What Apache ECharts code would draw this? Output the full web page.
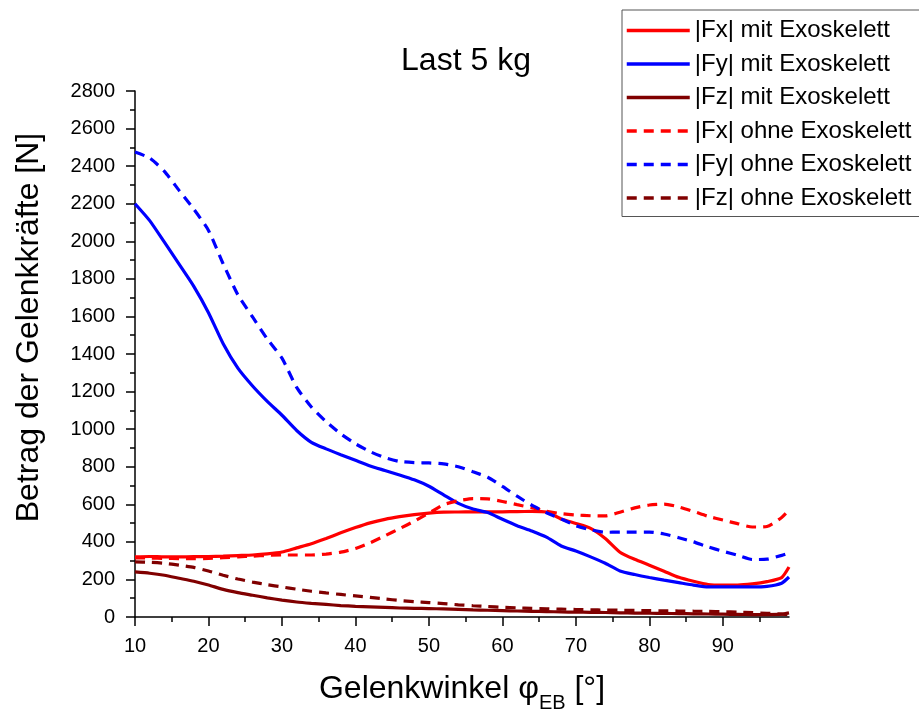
<!DOCTYPE html>
<html>
<head>
    <meta charset="utf-8">
    <title>Last 5 kg</title>
    <script src="https://cdn.jsdelivr.net/npm/echarts@6/dist/echarts.min.js"></script>
    <style>
        html, body { margin: 0; padding: 0; background: #fff; }
        #main { width: 919px; height: 711px; }
    </style>
</head>
<body>
    <div id="main"></div>
    <script type="text/javascript">
        // Gelenkwinkel (deg)
        var angles = [10, 12, 14, 16, 18, 20, 22, 24, 26, 28, 30, 32, 34, 36, 38, 40, 42, 44, 46, 48,
                      50, 52, 54, 56, 58, 60, 62, 64, 66, 68, 70, 72, 74, 76, 78, 80, 82, 84, 86, 88,
                      90, 92, 94, 96, 98, 99];
        // forces [N]
        var fxMit = [320, 322, 320, 320, 321, 322, 324, 327, 330, 336, 346, 368, 390, 418, 448, 476, 501, 520, 534, 545,
                     553, 558, 559, 560, 560, 560, 561, 562, 559, 522, 498, 472, 418, 345, 307, 276, 244, 211, 190, 173,
                     170, 170, 176, 188, 210, 266];
        var fyMit = [2200, 2110, 1995, 1878, 1760, 1620, 1455, 1325, 1230, 1148, 1074, 993, 930, 895, 864, 834, 804, 780, 756, 730,
                     696, 650, 605, 575, 556, 520, 486, 458, 425, 378, 351, 320, 286, 245, 226, 210, 196, 183, 170, 160,
                     160, 160, 160, 163, 180, 213];
        var fzMit = [240, 233, 222, 206, 190, 170, 147, 130, 116, 102, 90, 80, 73, 67, 61, 57, 54, 51, 48, 46,
                     45, 43, 41, 38, 36, 34, 32, 30, 29, 27, 26, 25, 24, 22, 21, 20, 19, 18, 17, 16,
                     15, 14, 13, 13, 15, 22];
        var fxOhne = [315, 314, 312, 311, 310, 312, 316, 320, 324, 328, 330, 330, 330, 335, 345, 365, 395, 432, 470, 510,
                      553, 598, 619, 630, 629, 615, 598, 582, 563, 550, 543, 539, 538, 558, 581, 596, 601, 586, 562, 536,
                      516, 497, 479, 482, 530, 570];
        var fyOhne = [2475, 2443, 2372, 2271, 2171, 2058, 1880, 1715, 1597, 1480, 1378, 1222, 1118, 1040, 975, 922, 880, 848, 828, 822,
                      820, 815, 800, 773, 744, 695, 643, 595, 555, 522, 486, 464, 451, 452, 452, 452, 442, 422, 400, 373,
                      350, 329, 306, 308, 328, 341];
        var fzOhne = [293, 291, 286, 276, 264, 245, 222, 202, 186, 172, 160, 148, 137, 128, 120, 112, 104, 96, 88, 82,
                      77, 71, 65, 60, 56, 52, 49, 46, 44, 42, 40, 38, 37, 36, 35, 34, 33, 32, 31, 30,
                      28, 26, 23, 20, 15, 12];

        var xMajor = [10, 20, 30, 40, 50, 60, 70, 80, 90];
        var xMinor = [15, 25, 35, 45, 55, 65, 75, 85, 95];

        var FONT = '"Liberation Sans", Arial, sans-serif';
        var RED = '#ff0000', BLUE = '#0000ff', DARK = '#800000';
        var DASH = [10, 7];

        function pairs(ys) {
            return angles.map(function (a, i) { return [a, ys[i]]; });
        }

        function lineSeries(name, ys, color, dashed) {
            return {
                name: name,
                type: 'line',
                data: pairs(ys),
                smooth: 0.2,
                symbol: 'none',
                lineStyle: { color: color, width: 3.2, type: dashed ? DASH : 'solid' },
                itemStyle: { color: color },
                z: dashed ? 3 : 2
            };
        }

        var myChart = echarts.init(document.getElementById('main'));

        var option = {
            backgroundColor: '#fff',
            animation: false,
            title: {
                text: 'Last 5 kg',
                left: 461,
                top: 40,
                textAlign: 'center',
                textStyle: { fontFamily: FONT, fontSize: 32, fontWeight: 'normal', color: '#000' }
            },
            legend: {
                orient: 'vertical',
                left: 622,
                top: 10,
                padding: [8.5, 30, 6.5, 3],
                itemWidth: 63,
                itemHeight: 22,
                itemGap: 9.5,
                borderColor: '#555',
                borderWidth: 1,
                itemStyle: { opacity: 0 },
                lineStyle: { width: 3.5 },
                textStyle: { fontFamily: FONT, fontSize: 24, color: '#000', lineHeight: 24 },
                data: ['|Fx| mit Exoskelett', '|Fy| mit Exoskelett', '|Fz| mit Exoskelett',
                       '|Fx| ohne Exoskelett', '|Fy| ohne Exoskelett', '|Fz| ohne Exoskelett']
            },
            grid: { left: 135, right: 130, top: 91, bottom: 94, outerBoundsMode: 'none' },
            xAxis: [
                {
                    type: 'value',
                    min: 10,
                    max: 99,
                    interval: 10,
                    name: 'Gelenkwinkel φ{sub|EB} [°]',
                    nameLocation: 'middle',
                    nameGap: 56,
                    nameTextStyle: {
                        fontFamily: FONT, fontSize: 32, color: '#000', lineHeight: 32,
                        rich: { sub: { fontFamily: FONT, fontSize: 20, lineHeight: 20, verticalAlign: 'top', padding: [20, 0, 0, 0], color: '#000' } }
                    },
                    axisLine: { show: true, lineStyle: { color: '#000', width: 1.5 } },
                    axisTick: { show: true, customValues: xMajor, length: 9, lineStyle: { color: '#000', width: 1.5 } },
                    axisLabel: { customValues: xMajor, fontFamily: FONT, fontSize: 20, color: '#000', margin: 19 },
                    splitLine: { show: false }
                },
                {
                    type: 'value',
                    min: 10,
                    max: 99,
                    position: 'bottom',
                    axisLine: { show: false },
                    axisTick: { show: true, customValues: xMinor, length: 5, lineStyle: { color: '#000', width: 1.5 } },
                    axisLabel: { show: false },
                    splitLine: { show: false }
                }
            ],
            yAxis: {
                type: 'value',
                min: 0,
                max: 2800,
                interval: 200,
                name: 'Betrag der Gelenkkräfte [N]',
                nameLocation: 'middle',
                nameGap: 90,
                nameTextStyle: { fontFamily: FONT, fontSize: 32, color: '#000', padding: [0, 0, 0, 53] },
                axisLine: { show: true, lineStyle: { color: '#000', width: 1.5 } },
                axisTick: { show: true, length: 9, lineStyle: { color: '#000', width: 1.5 } },
                minorTick: { show: true, splitNumber: 2, length: 5, lineStyle: { color: '#000', width: 1.5 } },
                axisLabel: {
                    fontFamily: FONT, fontSize: 20, color: '#000', margin: 20,
                    formatter: function (v) { return String(v); }
                },
                splitLine: { show: false }
            },
            series: [
                lineSeries('|Fx| mit Exoskelett', fxMit, RED, false),
                lineSeries('|Fy| mit Exoskelett', fyMit, BLUE, false),
                lineSeries('|Fz| mit Exoskelett', fzMit, DARK, false),
                lineSeries('|Fx| ohne Exoskelett', fxOhne, RED, true),
                lineSeries('|Fy| ohne Exoskelett', fyOhne, BLUE, true),
                lineSeries('|Fz| ohne Exoskelett', fzOhne, DARK, true)
            ]
        };

        myChart.setOption(option);
    </script>
</body>
</html>
